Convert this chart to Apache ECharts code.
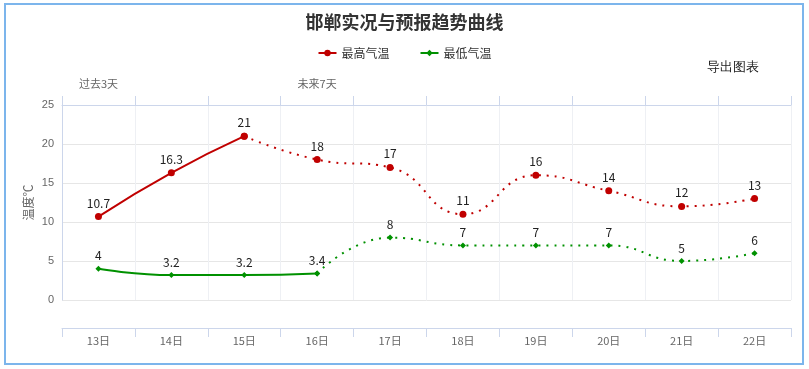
<!DOCTYPE html>
<html><head><meta charset="utf-8">
<script src="https://cdn.jsdelivr.net/npm/echarts@6/dist/echarts.min.js"></script>
<style>html,body{margin:0;padding:0;background:#fff}#c{width:809px;height:369px}</style>
</head><body><div id="c"></div>
<script>
var categories = ['13日','14日','15日','16日','17日','18日','19日','20日','21日','22日'];
var highObserved = [10.7, 16.3, 21, null, null, null, null, null, null, null];
var highForecast = [null, null, 21, 18, 17, 11, 16, 14, 12, 13];
var lowObserved = [4, 3.2, 3.2, 3.4, null, null, null, null, null, null];
var lowForecast = [null, null, null, 3.4, 8, 7, 7, 7, 5, 6];
var topLabels = ['过去3天', '', '', '未来7天', '', '', '', '', '', ''];
var yTicks = [0, 5, 10, 15, 20, 25];

var font = '"Microsoft YaHei","Noto Sans CJK SC",sans-serif';
var RED = '#c00000', GREEN = '#009100';
function lbl(skip){
  return {show:true, position:'top', distance:4, color:'#222', fontSize:12, fontFamily:font,
    formatter:function(p){ return (p.value==null || skip.indexOf(p.dataIndex)>=0) ? '' : String(p.value); }};
}
var chart = echarts.init(document.getElementById('c'));
chart.setOption({
  animation:false,
  title:{text:'邯郸实况与预报趋势曲线', left:'center', top:8,
    textStyle:{fontSize:18, fontWeight:'bold', color:'#333', fontFamily:font}},
  legend:{top:42, left:'center', itemGap:30, itemWidth:18, itemHeight:8,
    textStyle:{fontSize:12, color:'#333', fontFamily:font},
    data:['最高气温','最低气温']},
  graphic:[
    {type:'rect', shape:{x:5, y:4, width:798, height:360}, style:{fill:'none', stroke:'#7cb5ec', lineWidth:2}, silent:true},
    {type:'text', left:707, top:61, style:{text:'导出图表', fontSize:13, fill:'#222', font:'13px '+font}}
  ],
  grid:{left:62, right:18, top:105, bottom:69},
  xAxis:[
    {type:'category', data:categories, position:'bottom', offset:28, boundaryGap:true,
      axisLine:{show:true, onZero:false, lineStyle:{color:'#ccd6eb'}}, axisTick:{show:true, length:9, lineStyle:{color:'#ccd6eb'}},
      axisLabel:{color:'#666', fontSize:11, margin:7, fontFamily:font},
      splitLine:{show:true, lineStyle:{color:'#eef0f4'}}},
    {type:'category', data:topLabels, position:'top', boundaryGap:true,
      axisLine:{show:true, onZero:false, lineStyle:{color:'#ccd6eb'}}, axisTick:{show:true, length:9, lineStyle:{color:'#ccd6eb'}},
      axisLabel:{color:'#666', fontSize:11, margin:16, fontFamily:font, interval:0}}
  ],
  yAxis:{type:'value', min:yTicks[0], max:yTicks[yTicks.length-1], interval:5,
    name:'温度℃', nameLocation:'middle', nameGap:28, nameRotate:90, nameMoveOverlap:false,
    nameTextStyle:{color:'#666', fontSize:12, fontFamily:font},
    axisLine:{show:true, lineStyle:{color:'#ccd6eb'}}, axisTick:{show:false},
    axisLabel:{color:'#666', fontSize:11, margin:8},
    splitLine:{lineStyle:{color:'#e6e6e6'}}},
  series:[
    {name:'最高气温', type:'line', data:highObserved, smooth:0.5,
      symbol:'circle', symbolSize:7, itemStyle:{color:RED}, lineStyle:{color:RED, width:2}, label:lbl([]), z:3},
    {name:'最高气温', type:'line', data:highForecast, smooth:0.5,
      symbol:'circle', symbolSize:7, itemStyle:{color:RED}, lineStyle:{color:RED, width:2, type:[2,6]}, label:lbl([2]), z:2},
    {name:'最低气温', type:'line', data:lowObserved, smooth:0.5,
      symbol:'diamond', symbolSize:6, itemStyle:{color:GREEN}, lineStyle:{color:GREEN, width:2}, label:lbl([]), z:3},
    {name:'最低气温', type:'line', data:lowForecast, smooth:0.5,
      symbol:'diamond', symbolSize:6, itemStyle:{color:GREEN}, lineStyle:{color:GREEN, width:2, type:[2,6]}, label:lbl([3]), z:2}
  ]
});
</script></body></html>
